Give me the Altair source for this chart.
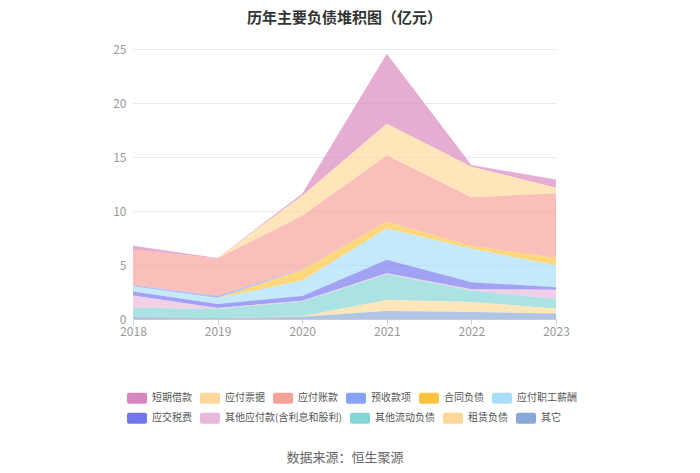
import altair as alt
import pandas as pd

years = [2018, 2019, 2020, 2021, 2022, 2023]

series_names = ["短期借款", "应付票据", "应付账款", "预收款项", "合同负债", "应付职工薪酬",
                "应交税费", "其他应付款(含利息和股利)", "其他流动负债", "租赁负债", "其它"]
colors = ["#DA86BE", "#FFD89A", "#F9A098", "#86A3F8", "#FFC43F", "#A8DEF8",
          "#7476EE", "#E9B8DB", "#83D5D6", "#FFD899", "#88A9D8"]
legend_row = [1, 1, 1, 1, 1, 1, 2, 2, 2, 2, 2]

short_loan = [0.37, 0.03, 0.18, 6.47, 0.15, 0.77]
notes_payable = [0.0, 0.0, 1.85, 2.94, 2.83, 0.50]
accounts_payable = [3.28, 3.46, 4.97, 6.14, 4.49, 6.01]
advance_receipts = [0.13, 0.22, 0.05, 0.0, 0.0, 0.0]
contract_liab = [0.0, 0.02, 0.99, 0.61, 0.28, 0.68]
payroll_payable = [0.46, 0.53, 1.42, 2.91, 3.09, 2.01]
tax_payable = [0.37, 0.37, 0.44, 1.24, 0.65, 0.25]
other_payables = [1.12, 0.09, 0.09, 0.09, 0.13, 0.84]
other_current = [0.85, 0.83, 1.36, 2.39, 1.05, 0.90]
lease_liab = [0.0, 0.0, 0.05, 1.02, 0.93, 0.46]
others = [0.20, 0.10, 0.20, 0.74, 0.65, 0.50]

series_values = [short_loan, notes_payable, accounts_payable, advance_receipts,
                 contract_liab, payroll_payable, tax_payable, other_payables,
                 other_current, lease_liab, others]

rows = []
n = len(series_names)
for i, (name, vals) in enumerate(zip(series_names, series_values)):
    for y, v in zip(years, vals):
        rows.append({"year": y, "series": name, "value": v,
                     "order": n - i, "row": legend_row[i]})
df = pd.DataFrame(rows)

font = "Noto Sans CJK SC"
swatch = ("M-0.8,-0.55 H0.8 Q1,-0.55 1,-0.35 V0.35 Q1,0.55 0.8,0.55 H-0.8 "
          "Q-1,0.55 -1,0.35 V-0.35 Q-1,-0.55 -0.8,-0.55 Z")

x_enc = alt.X("year:Q",
              scale=alt.Scale(domain=[2018, 2023], nice=False, zero=False),
              axis=alt.Axis(values=years, format="d", title="数据来源：恒生聚源",
                            titleFont=font, titleFontSize=13, titleFontWeight="normal",
                            titleColor="#666666", titleY=138, titleBaseline="middle",
                            labelFont=font, labelFontSize=12, labelColor="#999999",
                            labelFlush=False, labelPadding=2,
                            domainColor="#cccccc", tickColor="#cccccc",
                            tickSize=5, grid=False))
y_enc = alt.Y("y1:Q",
              scale=alt.Scale(domain=[0, 25], nice=False),
              axis=alt.Axis(values=[0, 5, 10, 15, 20, 25], title=None,
                            labelFont=font, labelFontSize=12, labelColor="#999999",
                            labelPadding=7, domain=False, ticks=False,
                            grid=True, gridColor="#E6EAF4", gridWidth=1))


def legend(ly):
    return alt.Legend(title=None, orient="none", legendX=-6, legendY=ly,
                      direction="horizontal", symbolType=swatch, symbolSize=400,
                      symbolOpacity=1, symbolStrokeWidth=0, labelFont=font,
                      labelFontSize=10, labelColor="#555555", columnPadding=8,
                      labelOffset=5)


def layer(row, ly):
    names = [s for s, r in zip(series_names, legend_row) if r == row]
    cols = [c for c, r in zip(colors, legend_row) if r == row]
    return alt.Chart().transform_filter(alt.datum.row == row).mark_area(
        opacity=0.68, interpolate="linear").encode(
        x=x_enc,
        y=y_enc,
        y2="y0:Q",
        color=alt.Color("series:N", scale=alt.Scale(domain=names, range=cols),
                        sort=names, legend=legend(ly)),
    )


chart = alt.layer(layer(1, 339), layer(2, 359), data=df).transform_stack(
    stack="value", groupby=["year"], as_=["y0", "y1"],
    sort=[alt.SortField("order", order="ascending")],
).resolve_scale(color="independent").properties(
    width=423,
    height=270,
    title=alt.TitleParams("历年主要负债堆积图（亿元）", font=font, fontSize=15,
                          fontWeight="bold", color="#333333", anchor="middle",
                          offset=17),
    autosize=alt.AutoSizeParams(type="none"),
    padding={"left": 125, "top": 41, "right": 136, "bottom": 146},
).configure_view(stroke=None)

chart.save("out.html", embed_options={"renderer": "svg", "actions": False})
